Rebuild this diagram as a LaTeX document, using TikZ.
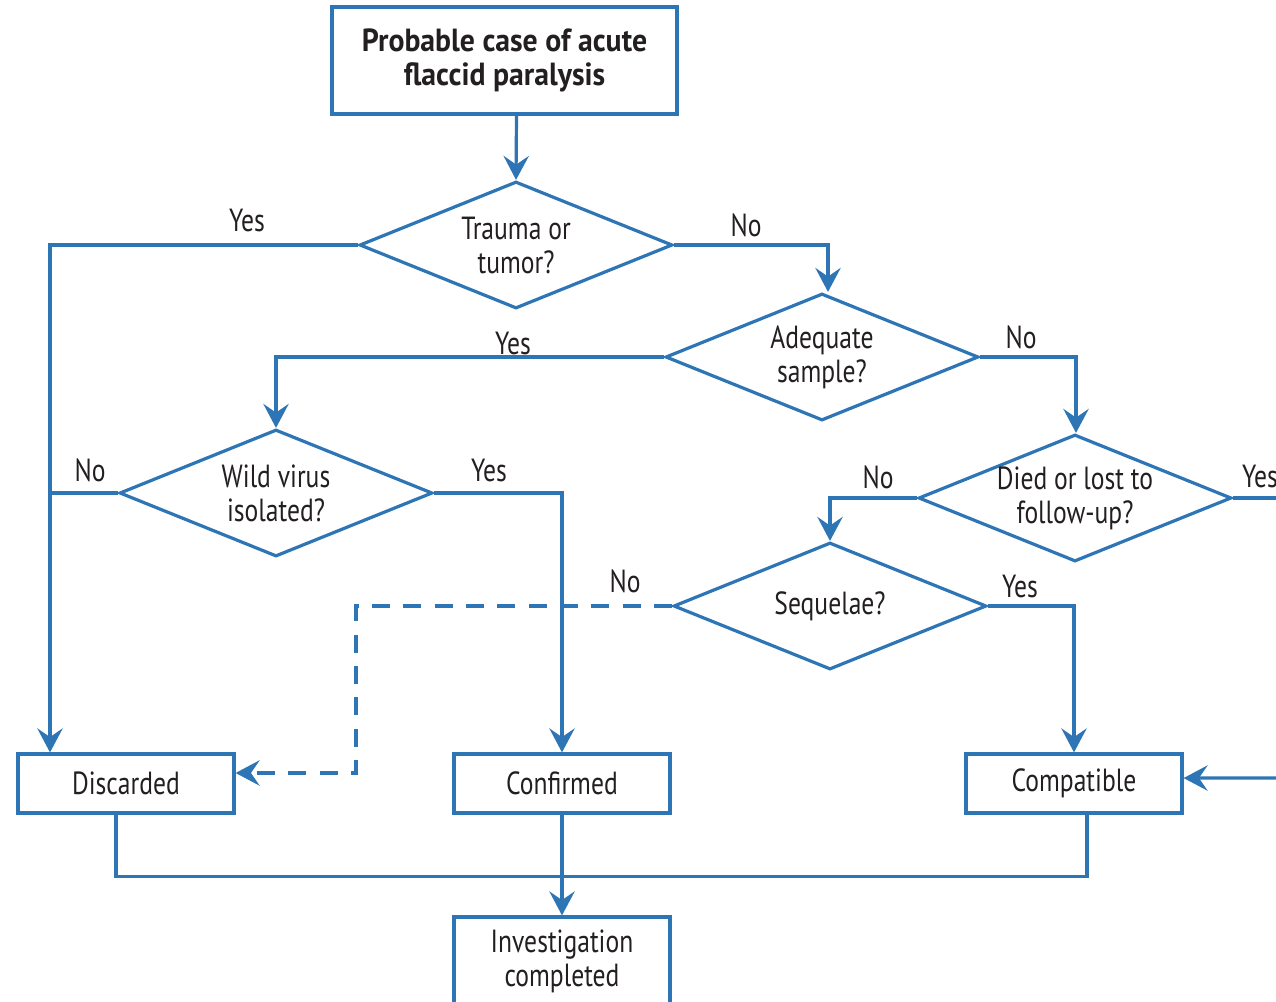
\documentclass[tikz,border=0pt]{standalone}
\usepackage{fontspec}
\setmainfont{PT Sans}[FakeStretch=0.8, BoldFeatures={FakeStretch=0.93}]
\usepackage{tikz}
\usetikzlibrary{shapes.geometric}
\usetikzlibrary{arrows.meta}
\definecolor{flowblue}{RGB}{46,117,182}
\definecolor{flowtext}{RGB}{35,31,32}

\begin{document}
\begin{tikzpicture}[x=0.75pt,y=0.75pt,yscale=-1,xscale=1,
  color=flowblue, line width=2.4pt,
  txt/.style={text=flowtext, font=\fontsize{24}{25.5}\selectfont},
  startbox/.style={txt, draw, rectangle, line width=2.4pt, align=center, font=\bfseries\fontsize{24}{25.5}\selectfont, minimum width=258.75pt, minimum height=80.25pt, inner sep=0pt},
  endbox/.style={txt, draw, rectangle, line width=2.4pt, align=center, minimum width=162pt, minimum height=44.25pt, inner sep=0pt},
  query/.style={txt, draw, diamond, aspect=2.46, align=center, minimum width=234.75pt, minimum height=95.25pt, inner sep=0pt},
  answer/.style={txt, inner sep=0.75pt},
  flow/.style={-{Stealth[length=18pt,width=19pt,inset=6.5pt]}},
  dashflow/.style={flow, dash pattern=on 13.5pt off 10pt}]
\useasboundingbox (0,0) rectangle (1276,1001);
\clip (0,0) rectangle (1276,1001);

%Shape: Rectangle [start]
\node [startbox] (start) at (504.5,60.5) {Probable case of acute\\flaccid paralysis};
%Shape: Diamond [questions]
\node [query] (trauma) at (516,245) {Trauma or\\tumor?};
\node [query] (sample) at (822,357) {Adequate\\sample?};
\node [query] (virus) at (276,493) {Wild virus\\isolated?};
\node [query] (died) at (1075,498) {Died or lost to\\follow-up?};
\node [query] (sequelae) at (830,606) {Sequelae?};
%Shape: Rectangle [outcomes]
\node [endbox] (discarded) at (126,783.5) {Discarded};
\node [endbox] (confirmed) at (562,783.5) {Confirmed};
\node [endbox] (compatible) at (1074,783.5) {Compatible};
\node [endbox, minimum height=66pt] (completed) at (562,961) {Investigation\\completed};

%Straight Lines [off the picture]
\coordinate (rightout) at (1295,498);
\coordinate (rightin) at (1295,778);

%Straight Lines [connectors]
\draw [flow] ([xshift=9pt]start.south) -- (trauma.north);
\draw [flow] (trauma.west) -| ([xshift=-57pt]discarded.north);
\draw [flow] (trauma.east) -| ([xshift=4.5pt]sample.north);
\draw [flow] (sample.west) -| (virus.north);
\draw [flow] (sample.east) -| ([xshift=0.75pt]died.north);
\draw (virus.west) -- (50,493);
\draw [flow] (virus.east) -| (confirmed.north);
\draw [flow] (died.west) -| (sequelae.north);
\draw (died.east) -- (rightout);
\draw [flow] (sequelae.east) -| (compatible.north);
\draw [dashflow] (sequelae.west) -- (356,606) |- ([yshift=-7.9pt]discarded.east);
\draw [flow] (rightin) -- ([yshift=-4.1pt]compatible.east);
\draw ([xshift=-7.5pt]discarded.south) -- ++(0,62) -| ([xshift=9.75pt]compatible.south);
\draw [flow] (confirmed.south) -- (completed.north);

% Text Node
\node [answer] (yes1) at (247,220) {Yes};
% Text Node
\node [answer] (no1) at (746,225) {No};
% Text Node
\node [answer] (yes2) at (513,343) {Yes};
% Text Node
\node [answer] (no2) at (1021,337) {No};
% Text Node
\node [answer] (no3) at (90,470) {No};
% Text Node
\node [answer] (yes3) at (489,470) {Yes};
% Text Node
\node [answer] (no4) at (878,477) {No};
% Text Node
\node [answer] (yes4) at (1260,476) {Yes};
% Text Node
\node [answer] (no5) at (625,581) {No};
% Text Node
\node [answer] (yes5) at (1020,586) {Yes};

\end{tikzpicture}
\end{document}
